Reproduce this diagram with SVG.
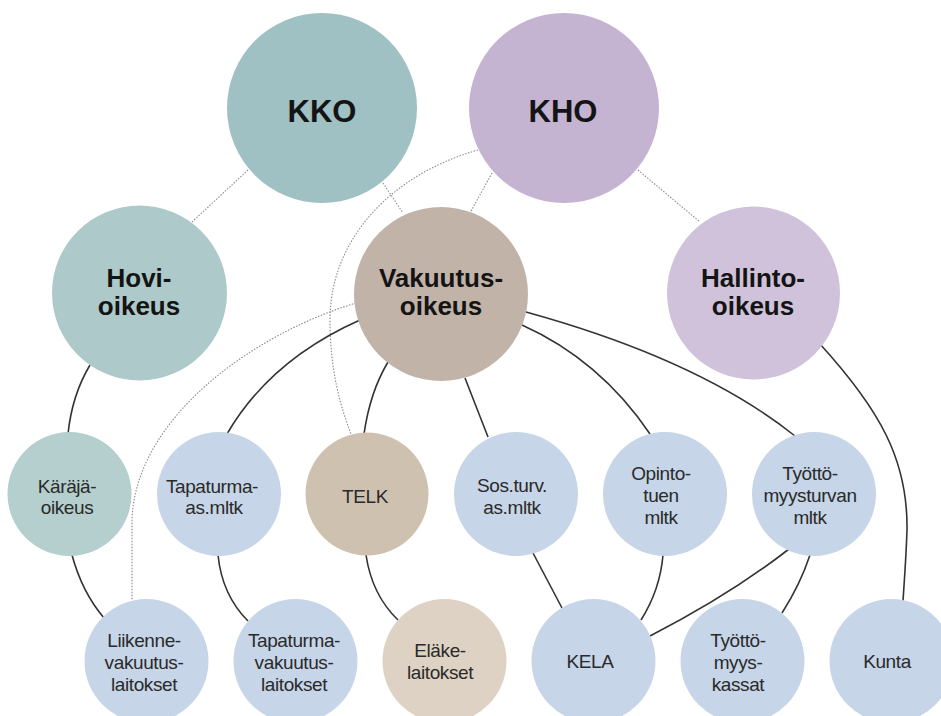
<svg xmlns="http://www.w3.org/2000/svg" width="941" height="716" viewBox="0 0 941 716">
<style>
.big{font-family:"Liberation Sans",Arial,sans-serif;font-weight:bold;fill:#141414;text-anchor:middle}
.sm{font-family:"Liberation Sans",Arial,sans-serif;font-size:19px;fill:#2a2a2a;text-anchor:middle;letter-spacing:-0.4px}
.solid{fill:none;stroke:#333;stroke-width:1.6}
.dot{fill:none;stroke:#8a8a8a;stroke-width:1.1;stroke-dasharray:1.5 1.5}
.blue{fill:#c6d5e7}
</style>
<rect width="941" height="716" fill="#fff"/>
<g id="connectors">
<path class="dot" d="M248,170 L192,222"/>
<path class="dot" d="M383,183 L403,213"/>
<path class="dot" d="M492,173 L470,213"/>
<path class="dot" d="M638,170 L700,222"/>
<path class="dot" d="M478,150 C390,175 330,240 330,320 C330,370 340,405 351,434"/>
<path class="dot" d="M356,303 C250,335 135,420 132,520 L132,600"/>
<path class="solid" d="M90,365 Q72,395 68,434"/>
<path class="solid" d="M72,555 Q82,592 104,618"/>
<path class="solid" d="M360,320 Q270,360 227,434"/>
<path class="solid" d="M388,362 Q370,392 364,434"/>
<path class="solid" d="M465,378 L488,437"/>
<path class="solid" d="M522,325 Q600,360 650,434"/>
<path class="solid" d="M526,312 Q700,360 795,436"/>
<path class="solid" d="M820,344 C880,410 908,460 907,530 C906,560 904,585 903,601"/>
<path class="solid" d="M218,555 Q222,595 248,621"/>
<path class="solid" d="M366,555 Q372,595 398,620"/>
<path class="solid" d="M533,553 L562,608"/>
<path class="solid" d="M663,555 Q660,590 641,620"/>
<path class="solid" d="M789,549 Q730,595 650,636"/>
<path class="solid" d="M810,555 Q800,585 782,613"/>
</g>
<g id="kko"><circle cx="322" cy="108" r="95" fill="#9fc1c3"/><text class="big" x="322" y="122" font-size="31">KKO</text></g>
<g id="kho"><circle cx="564" cy="108" r="95" fill="#c4b3d1"/><text class="big" x="563" y="122" font-size="31">KHO</text></g>
<g id="hovioikeus"><circle cx="139.5" cy="293" r="87.5" fill="#adc9ca"/><text class="big" font-size="26"><tspan x="139" y="287">Hovi-</tspan><tspan x="139" y="315">oikeus</tspan></text></g>
<g id="vakuutusoikeus"><circle cx="441" cy="294" r="87" fill="#c1b3a8"/><text class="big" font-size="26"><tspan x="441" y="287">Vakuutus-</tspan><tspan x="441" y="315">oikeus</tspan></text></g>
<g id="hallintooikeus"><circle cx="753.5" cy="293" r="86.5" fill="#cfc2da"/><text class="big" font-size="26"><tspan x="753" y="287">Hallinto-</tspan><tspan x="753" y="315">oikeus</tspan></text></g>
<g id="karajaoikeus"><circle cx="69.5" cy="494" r="62" fill="#b4cfcd"/><text class="sm"><tspan x="67" y="493">Käräjä-</tspan><tspan x="67" y="514">oikeus</tspan></text></g>
<g id="tapaturma-asmltk"><circle cx="219" cy="494" r="62" class="blue"/><text class="sm"><tspan x="212" y="493">Tapaturma-</tspan><tspan x="214" y="514">as.mltk</tspan></text></g>
<g id="telk"><circle cx="367" cy="494" r="61.5" fill="#cfc1b0"/><text class="sm" x="365" y="503">TELK</text></g>
<g id="sosturv"><circle cx="516" cy="494" r="62" class="blue"/><text class="sm"><tspan x="512" y="492">Sos.turv.</tspan><tspan x="512" y="514">as.mltk</tspan></text></g>
<g id="opintotuen"><circle cx="665" cy="494" r="62" class="blue"/><text class="sm"><tspan x="661" y="480">Opinto-</tspan><tspan x="661" y="502">tuen</tspan><tspan x="661" y="524">mltk</tspan></text></g>
<g id="tyottomyysturvan"><circle cx="814" cy="494" r="62" class="blue"/><text class="sm"><tspan x="810" y="480">Työttö-</tspan><tspan x="810" y="502">myysturvan</tspan><tspan x="810" y="524">mltk</tspan></text></g>
<g id="liikennevakuutus"><circle cx="146.5" cy="661" r="62" class="blue"/><text class="sm"><tspan x="144" y="647">Liikenne-</tspan><tspan x="144" y="669">vakuutus-</tspan><tspan x="144" y="691">laitokset</tspan></text></g>
<g id="tapaturmavakuutus"><circle cx="295.5" cy="661" r="62" class="blue"/><text class="sm"><tspan x="294" y="647">Tapaturma-</tspan><tspan x="294" y="669">vakuutus-</tspan><tspan x="294" y="691">laitokset</tspan></text></g>
<g id="elakelaitokset"><circle cx="444.5" cy="661" r="62" fill="#ddd2c3"/><text class="sm"><tspan x="440" y="657">Eläke-</tspan><tspan x="440" y="679">laitokset</tspan></text></g>
<g id="kela"><circle cx="593.5" cy="661" r="62" class="blue"/><text class="sm" x="590" y="668">KELA</text></g>
<g id="tyottomyyskassat"><circle cx="742.5" cy="661" r="62" class="blue"/><text class="sm"><tspan x="738" y="647">Työttö-</tspan><tspan x="738" y="669">myys-</tspan><tspan x="738" y="691">kassat</tspan></text></g>
<g id="kunta"><circle cx="891.5" cy="661" r="62" class="blue"/><text class="sm" x="887" y="668">Kunta</text></g>
</svg>
